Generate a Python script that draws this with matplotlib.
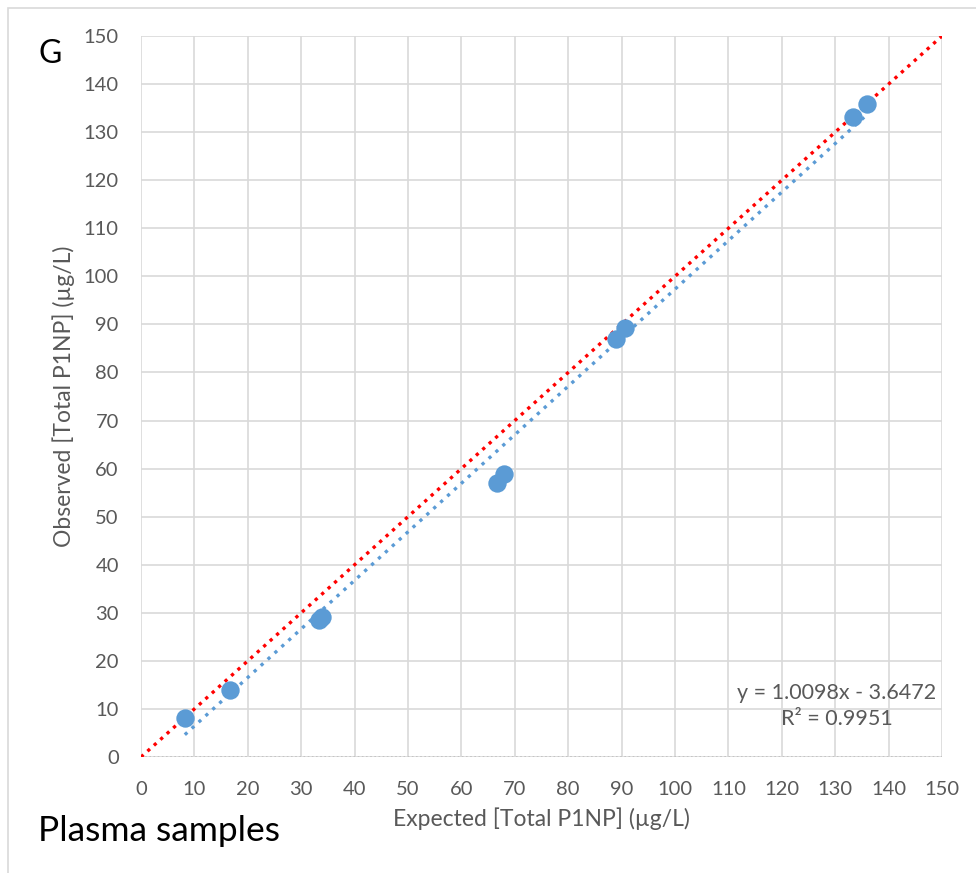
import numpy as np
import matplotlib.pyplot as plt
from matplotlib.patches import Rectangle

# expected vs observed total P1NP (ug/L), plasma samples
expected = [8.2, 16.7, 33.3, 33.9, 66.6, 67.9, 88.9, 90.6, 133.3, 136.0]
observed = [8.1, 13.9, 28.5, 29.1, 57.1, 58.9, 86.9, 89.2, 133.2, 135.8]
slope, intercept = 1.0098, -3.6472
r2 = 0.9951

blue = "#5b9bd5"
grey = "#595959"
plt.rcParams['font.family'] = ['Lato', 'DejaVu Sans']

fig = plt.figure(figsize=(9.76, 8.73), dpi=100)
ax = fig.add_axes([0.1445, 0.1329, 0.8207, 0.8259])

# outer chart border
fig.patches.append(Rectangle((8 / 976, -0.1), 1.1, 1 - 8 / 873 + 0.1, transform=fig.transFigure,
                             fill=False, edgecolor="#d9d9d9", lw=1.2))

# identity line
ax.plot([0, 150], [0, 150], color="red", lw=2.4, linestyle=(0, (1, 1.6)), zorder=3)

# linear trendline over data range
xs = np.array([min(expected), max(expected)])
ax.plot(xs, slope * xs + intercept, color=blue, lw=2.4, linestyle=(0, (1, 1.8)), zorder=3)

ax.scatter(expected, observed, s=175, color=blue, zorder=4, linewidths=0)

ax.set_xlim(0, 150)
ax.set_ylim(0, 150)
ticks = np.arange(0, 151, 10)
ax.set_xticks(ticks)
ax.set_yticks(ticks)
ax.grid(True, color="#d9d9d9", lw=1.2)
ax.set_axisbelow(True)
for s in ax.spines.values():
    s.set_visible(False)
ax.axhline(0, color="#bfbfbf", lw=1.2, linestyle=(0, (1, 1.5)), zorder=2)
ax.tick_params(length=0, labelsize=14.5, labelcolor=grey)
ax.tick_params(axis="x", pad=17)
ax.tick_params(axis="y", pad=16)

ax.set_xlabel("Expected [Total P1NP] (µg/L)", fontsize=16.5, color=grey, labelpad=7)
ax.set_ylabel("Observed [Total P1NP] (µg/L)", fontsize=16.5, color=grey, labelpad=6)

ax.text(936, 873 - 706, "y = 1.0098x - 3.6472\nR² = 0.9951", transform=None, fontsize=15.5,
        color=grey, ha="right", va="center", multialignment="center", linespacing=1.4)

fig.text(38 / 976, 1 - 54 / 873, "G", fontsize=23, va="center", ha="left")
fig.text(38 / 976, 1 - 831 / 873, "Plasma samples", fontsize=25.5, va="center", ha="left")

fig.savefig("out.png", dpi=100)
